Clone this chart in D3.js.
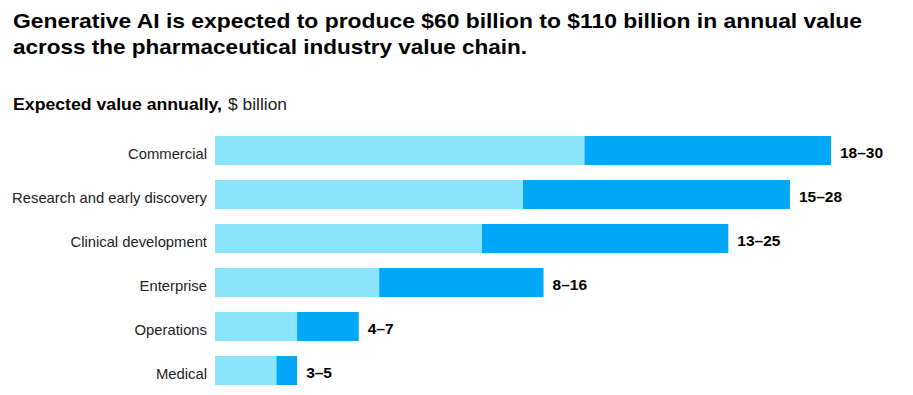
<!DOCTYPE html>
<html>
<head>
<meta charset="utf-8">
<script src="https://cdn.jsdelivr.net/npm/d3@7"></script>
<style>
  body { margin: 0; background: #fff; }
  svg { display: block; font-family: "Liberation Sans", Arial, sans-serif; }
</style>
</head>
<body>
<svg width="913" height="395"></svg>
<script>
var categories = ["Commercial", "Research and early discovery", "Clinical development", "Enterprise", "Operations", "Medical"];
var lowValues = [18, 15, 13, 8, 4, 3];
var highValues = [30, 28, 25, 16, 7, 4];
var rangeLabels = ["18\u201330", "15\u201328", "13\u201325", "8\u201316", "4\u20137", "3\u20135"];

var svg = d3.select("svg");

var x = d3.scaleLinear().domain([0, 30]).range([215, 831]);
var y = d3.scaleBand().domain(categories).range([128.5, 392.5]).paddingInner(0.34).paddingOuter(0.17);

// title
var title = svg.append("g").attr("font-weight", "bold").attr("fill", "#000").attr("font-size", "20.5px");
title.append("text").attr("x", 13).attr("y", 28)
  .attr("textLength", 849).attr("lengthAdjust", "spacingAndGlyphs")
  .text("Generative AI is expected to produce $60 billion to $110 billion in annual value");
title.append("text").attr("x", 13).attr("y", 54)
  .attr("textLength", 514).attr("lengthAdjust", "spacingAndGlyphs")
  .text("across the pharmaceutical industry value chain.");

svg.append("text").attr("x", 13).attr("y", 110)
  .attr("font-size", "16.5px").attr("font-weight", "bold").attr("fill", "#000")
  .attr("textLength", 209).attr("lengthAdjust", "spacingAndGlyphs")
  .text("Expected value annually,");
svg.append("text").attr("x", 228).attr("y", 110)
  .attr("font-size", "16.5px").attr("fill", "#222")
  .attr("textLength", 59).attr("lengthAdjust", "spacingAndGlyphs")
  .text("$ billion");

var rows = svg.selectAll(".row").data(categories).enter().append("g").attr("class", "row");

rows.append("rect")
  .attr("x", x(0))
  .attr("y", function(d) { return y(d); })
  .attr("width", function(d, i) { return x(highValues[i]) - x(0); })
  .attr("height", y.bandwidth())
  .attr("fill", "#00a8f7");

rows.append("rect")
  .attr("x", x(0))
  .attr("y", function(d) { return y(d); })
  .attr("width", function(d, i) { return x(lowValues[i]) - x(0); })
  .attr("height", y.bandwidth())
  .attr("fill", "#8ce5fd");

rows.append("text")
  .attr("x", 207)
  .attr("y", function(d) { return y(d) + y.bandwidth() / 2 + 8; })
  .attr("text-anchor", "end")
  .attr("font-size", "14.8px")
  .attr("fill", "#222")
  .text(function(d) { return d; });

rows.append("text")
  .attr("x", function(d, i) { return x(highValues[i]) + 9; })
  .attr("y", function(d) { return y(d) + y.bandwidth() / 2 + 7; })
  .attr("font-size", "15.5px")
  .attr("font-weight", "bold")
  .attr("fill", "#000")
  .text(function(d, i) { return rangeLabels[i]; });
</script>
</body>
</html>
